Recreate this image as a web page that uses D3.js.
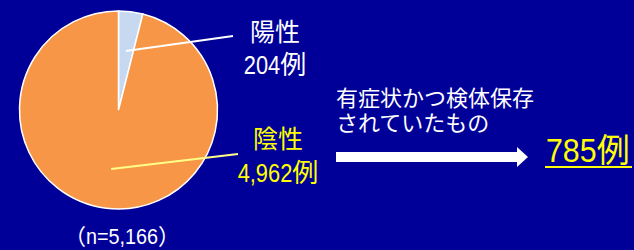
<!DOCTYPE html>
<html>
<head>
<meta charset="utf-8">
<script src="https://cdn.jsdelivr.net/npm/d3@7"></script>
<style>
  body { margin: 0; background: #000099; }
  text { font-family: "Liberation Sans", "Noto Sans CJK JP", sans-serif; }
</style>
</head>
<body>
<svg id="chart"></svg>
<script>
const categories = ['陽性', '陰性']
const values = [204, 4962]
const countLabels = ['204例', '4,962例']
const totalLabel = '（n=5,166）'
const noteLines = ['有症状かつ検体保存', 'されていたもの']
const resultLabel = '785例'

const colors = ['#c6d9f1', '#f79646']
const labelColors = ['#ffffff', '#ffff00']
const leaderColors = ['#ffffff', '#ffff88']

const width = 634, height = 250
const cx = 118.5, cy = 110, r = 99

const svg = d3.select('#chart')
  .attr('width', width)
  .attr('height', height)

svg.append('rect')
  .attr('width', width)
  .attr('height', height)
  .attr('fill', '#000099')

// label with narrow latin/digit runs next to full width kanji
// (each run is its own text, digits squeezed horizontally)
function squeezedLabel(parent, str, x, y, size, squeeze, color, anchor) {
  const g = parent.append('g').attr('fill', color)
  const runs = str.match(/[\x00-\x7f]+|[^\x00-\x7f]+/g)
  let cursor = 0
  runs.forEach(run => {
    const ascii = /^[\x00-\x7f]+$/.test(run)
    const t = g.append('text')
      .attr('font-size', size)
      .attr('y', y)
      .text(run)
    const w = t.node().getComputedTextLength() * (ascii ? squeeze : 1)
    if (ascii) t.attr('transform', `translate(${cursor},0) scale(${squeeze},1)`)
    else t.attr('x', cursor)
    cursor += w
  })
  const x0 = anchor === 'middle' ? x - cursor / 2 : x
  g.attr('transform', `translate(${x0},0)`)
  return g
}

const pie = d3.pie().sort(null).value(d => d)
const arcs = pie(values)
const arc = d3.arc().innerRadius(0).outerRadius(r)

const chart = svg.append('g')
  .attr('transform', `translate(${cx},${cy})`)

chart.selectAll('.slice')
  .data(arcs)
  .join('path')
  .attr('class', 'slice')
  .attr('d', arc)
  .attr('fill', (d, i) => colors[i])
  .attr('stroke', '#ffffff')
  .attr('stroke-width', 1.5)

// leader lines from inside the slice out to the labels
const leaderEnds = [[233 - cx, 36 - cy], [238 - cx, 154 - cy]]
const innerArc = d3.arc().innerRadius(r * 0.6).outerRadius(r * 0.6)
chart.selectAll('.leader')
  .data(arcs)
  .join('line')
  .attr('class', 'leader')
  .attr('x1', d => innerArc.centroid(d)[0])
  .attr('y1', d => innerArc.centroid(d)[1])
  .attr('x2', (d, i) => leaderEnds[i][0])
  .attr('y2', (d, i) => leaderEnds[i][1])
  .attr('stroke', (d, i) => leaderColors[i])
  .attr('stroke-width', 2)

// slice labels
const labelPos = [{x: 275, y1: 41, y2: 74}, {x: 278, y1: 148, y2: 182}]
categories.forEach((c, i) => {
  svg.append('text')
    .attr('x', labelPos[i].x)
    .attr('y', labelPos[i].y1)
    .attr('text-anchor', 'middle')
    .attr('fill', labelColors[i])
    .attr('font-size', 25)
    .text(c)
  squeezedLabel(svg, countLabels[i], labelPos[i].x, labelPos[i].y2, 26, 0.84, labelColors[i], 'middle')
})

squeezedLabel(svg, totalLabel, 122, 244, 22, 0.9, '#ffffff', 'middle')

svg.selectAll('.note')
  .data(noteLines)
  .join('text')
  .attr('class', 'note')
  .attr('x', 336)
  .attr('y', (d, i) => 106 + i * 25)
  .attr('fill', '#ffffff')
  .attr('font-size', 22)
  .text(d => d)

// arrow
svg.append('path')
  .attr('d', 'M336,152 L517,152 L517,147 L528,157 L517,167 L517,162 L336,162 Z')
  .attr('fill', '#ffffff')

squeezedLabel(svg, resultLabel, 546, 162, 33, 0.92, '#ffff00', 'start')

svg.append('line')
  .attr('x1', 545)
  .attr('x2', 632)
  .attr('y1', 167)
  .attr('y2', 167)
  .attr('stroke', '#ffff00')
  .attr('stroke-width', 2)
</script>
</body>
</html>
